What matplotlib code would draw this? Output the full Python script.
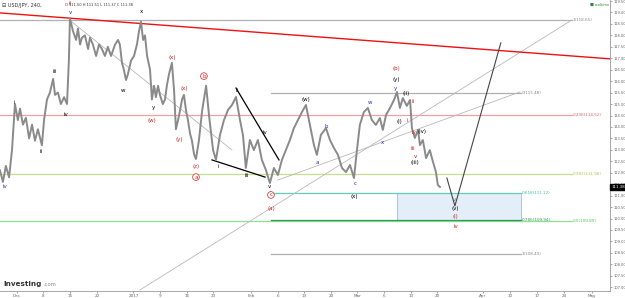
import numpy as np
import matplotlib
matplotlib.use('Agg')
import matplotlib.pyplot as plt
from matplotlib.patches import Rectangle

# ─── Datos (x = índice de barra de 12 h, y = precio) ─────────────────────────
precio_x = [0, 1.1, 2.2, 3.4, 4.5, 5.6, 6.7, 7.5, 8.6, 9.7, 10.9, 12, 13.1, 14.2, 15.7,
            16.5, 17.6, 18.7, 19.9, 20.6, 21.7, 22.8, 24, 25.1, 25.8, 26.2, 27.3, 28.5,
            29.2, 30, 30.7, 31.8, 33, 33.7, 34.8, 36, 37.1, 38.2, 39.3, 40.4, 41.6, 43.1,
            44.2, 44.9, 45.7, 46.4, 47.2, 47.9, 49.1, 50.2, 51.3, 52.1, 52.8, 53.6, 54.3,
            55.1, 56.2, 56.9, 57.7, 58.4, 59.2, 59.9, 61, 61.8, 62.5, 63.3, 64.4, 65.2,
            65.9, 66.7, 67.4, 68.2, 68.9, 69.7, 70.4, 71.2, 71.9, 72.7, 73.4, 74.5, 75.7,
            77.2, 78.3, 79.8, 80.9, 82.4, 83.9, 85.4, 86.9, 88.4, 89.9, 91, 92.1, 93.6,
            95.1, 96.6, 98.1, 99.6, 101.1, 102.6, 104.1, 105.6, 107.1, 108.6, 110.1,
            111.6, 113.1, 114.6, 116.1, 117.6, 118.7, 120.2, 122.1, 123.6, 125.1, 126.6,
            128.1, 129.6, 131.1, 132.6, 133.7, 134.8, 136.3, 137.8, 139.3, 140.8, 142.3,
            143.4, 144.6, 146.1, 147.6, 148.7, 149.8, 150.9, 152.4, 153.6, 154.3, 155.4,
            156.6, 157.3, 158.4, 159.6, 161, 162.2, 163.3, 164, 164.8]
precio_y = [112.1, 111.6, 112.3, 111.8, 113.0, 115.0, 114.3, 114.8, 114.1, 114.4, 113.5,
            114.1, 113.4, 113.9, 113.2, 114.3, 115.2, 115.5, 116.1, 115.4, 115.5, 115.0,
            115.3, 115.0, 116.9, 118.76, 118.2, 117.8, 118.3, 117.6, 117.9, 118.0, 117.4,
            117.9, 117.6, 117.1, 117.6, 117.4, 117.1, 117.5, 117.1, 117.6, 117.8, 117.6,
            116.8, 116.5, 116.05, 116.3, 116.9, 117.1, 117.6, 118.2, 118.6, 117.8, 118.0,
            117.1, 116.5, 115.2, 115.8, 115.3, 115.8, 115.4, 115.0, 115.2, 115.8, 116.3,
            116.8, 115.6, 113.9, 114.3, 114.7, 115.2, 115.4, 114.7, 114.3, 113.7, 113.4,
            112.8, 112.6, 113.4, 114.7, 115.8, 114.5, 113.0, 112.56, 113.65, 114.3, 114.74,
            114.96, 115.31, 114.3, 113.65, 112.21, 113.43, 112.99, 113.43, 112.56, 112.12,
            111.55, 112.21, 111.9, 112.56, 112.99, 113.43, 113.95, 114.3, 114.65, 114.96,
            114.09, 113.21, 112.78, 113.65, 113.95, 113.43, 113.08, 112.78, 112.21, 112.03,
            112.34, 111.77, 112.99, 114.09, 114.65, 114.83, 114.3, 114.09, 114.39, 113.87,
            114.52, 114.83, 115.18, 115.53, 114.83, 115.26, 114.92, 115.18, 113.95, 113.52,
            113.87, 113.21, 113.43, 112.64, 112.99, 112.47, 112.03, 111.47, 111.38]

proy_x = [167.4, 170.4, 187.6]
proy_y = [111.77, 110.55, 117.67]

# Fibonacci
fib1_niveles = [118.65, 114.52, 111.96, 109.89]
fib1_textos = ['1(118.65)', '0.236(114.52)', '0.382(111.96)', '0.5(109.89)']
fib1_colores = ['#b0b0b0', '#f2a0a0', '#c5df8a', '#8fe08f']
fib1_texto_col = ['#888888', '#e06060', '#a8c84a', '#4fc04f']
fib2_niveles = [115.48, 111.12, 109.94, 108.43]
fib2_textos = ['0(115.48)', '0.618(111.12)', '0.786(109.94)', '1(108.43)']
fib2_colores = ['#b0b0b0', '#5fcfb8', '#2e9a5e', '#b0b0b0']
fib2_texto_col = ['#888888', '#3dbfa5', '#2e9a5e', '#888888']

# líneas de tendencia (x0, y0, x1, y1)
tendencias_grises = [(52.4, 106.88, 214.2, 118.67),
                     (104.1, 111.68, 194.8, 115.53),
                     (27.0, 118.58, 86.9, 112.99)]
tendencias_negras = [(88.4, 115.7, 104.5, 112.56),
                     (79.4, 112.56, 99.3, 111.81)]
tendencia_roja = (0, 118.98, 229.0, 116.97)

# etiquetas de ondas
etq_negras = [('i', 5.24, 115.05), ('ii', 15.36, 112.91), ('iii', 20.6, 116.40),
              ('iv', 24.72, 114.56), ('w', 46.07, 115.61), ('x', 52.81, 119.06),
              ('y', 57.3, 114.83), ('i', 81.65, 112.29), ('ii', 88.76, 115.61),
              ('iii', 92.51, 111.90), ('iv', 99.25, 113.74), ('v', 101.12, 111.38),
              ('(w)', 114.6, 115.18), ('(x)', 132.58, 110.98), ('(y)', 148.31, 116.09),
              ('(i)', 149.44, 114.22), ('(ii)', 152.06, 115.48), ('(iii)', 155.43, 112.43),
              ('(iv)', 158.05, 113.82), ('(v)', 170.41, 110.42)]
etq_rojas = [('ii', 26.22, 119.37), ('(w)', 56.93, 114.30), ('(x)', 64.42, 117.05),
             ('(x)', 68.91, 115.70), ('(y)', 67.04, 113.47), ('(z)', 73.41, 112.29),
             ('(a)', 101.5, 110.46), ('(b)', 148.31, 116.57), ('i', 152.43, 114.26),
             ('ii', 154.68, 115.09), ('iii', 154.68, 113.04), ('iv', 155.06, 113.74),
             ('v', 155.81, 112.69), ('(i)', 170.41, 110.11), ('iv', 170.79, 109.67)]
etq_circulo = [('a', 73.41, 111.81), ('b', 76.4, 116.22), ('c', 101.5, 111.03)]
etq_azules = [('iv', 1.87, 111.38), ('v', 26.22, 118.98), ('a', 118.73, 112.43),
              ('b', 122.1, 114.04), ('c', 132.96, 111.55), ('w', 138.58, 115.05),
              ('x', 143.45, 113.34), ('y', 148.31, 115.70)]
etq_gris = [('v', 170.41, 110.81)]

caja_x = (148.7, 195.1)
caja_y = (109.94, 111.12)

ticks_x = [6.25, 16.25, 26.3, 36.3, 50, 59.9, 70, 79.8, 94, 104.1, 113.9, 124, 133.9,
           143.8, 153.9, 163.7, 180.9, 191, 201.1, 211.2, 221.7]
ticks_x_txt = ['Dec', '8', '15', '22', '2017', '9', '16', '23', 'Feb', '6', '13', '20',
               'Mar', '6', '13', '20', 'Apr', '10', '17', '24', 'May']
ticks_y = np.arange(107.0, 119.51, 0.5)
ultimo = 111.38

Y0, Y1 = 106.836, 119.544

# ─── Figura ───────────────────────────────────────────────────────────────────
plt.rcParams['font.family'] = 'DejaVu Sans'
fig = plt.figure(figsize=(6.25, 2.98), dpi=100)
ax = fig.add_axes([0, 0.0235, 0.976, 0.9765])
ax.set_xlim(0, 228.5)
ax.set_ylim(Y0, Y1)

for s in ['top', 'left']:
    ax.spines[s].set_visible(False)
ax.spines['bottom'].set_color('#999999')
ax.spines['right'].set_color('#999999')
ax.spines['bottom'].set_linewidth(0.6)
ax.spines['right'].set_linewidth(0.6)
ax.yaxis.tick_right()
ax.set_yticks(ticks_y)
ax.set_yticklabels([f'{v:.2f}' for v in ticks_y])
ax.set_xticks(ticks_x)
ax.set_xticklabels(ticks_x_txt)
ax.tick_params(axis='y', labelsize=2.6, colors='#666666', length=1.5, width=0.4, pad=1)
ax.tick_params(axis='x', labelsize=3.0, colors='#666666', length=1.5, width=0.4, pad=1)

# fibonacci 1
for nivel, txt, c, ct in zip(fib1_niveles, fib1_textos, fib1_colores, fib1_texto_col):
    ax.plot([0, 214.2], [nivel, nivel], color=c, lw=0.9)
    ax.text(214.6, nivel, txt, color=ct, fontsize=3.0, va='center', ha='left')

# fibonacci 2
ax.add_patch(Rectangle((caja_x[0], caja_y[0]), caja_x[1] - caja_x[0], caja_y[1] - caja_y[0],
                       facecolor='#e3eef9', edgecolor='#9fbce0', lw=0.6, zorder=1))
for nivel, txt, c, ct in zip(fib2_niveles, fib2_textos, fib2_colores, fib2_texto_col):
    ax.plot([101.5, 195.1], [nivel, nivel], color=c, lw=0.9, zorder=2)
    ax.text(195.5, nivel, txt, color=ct, fontsize=3.0, va='center', ha='left')

# tendencias
for x0, y0, x1, y1 in tendencias_grises:
    ax.plot([x0, x1], [y0, y1], color='#b8b8b8', lw=0.6)
for x0, y0, x1, y1 in tendencias_negras:
    ax.plot([x0, x1], [y0, y1], color='black', lw=0.9)
ax.plot(tendencia_roja[0::2], tendencia_roja[1::2], color='#ee1111', lw=1.0)

# precio
ax.plot(precio_x, precio_y, color='#8a8a8a', lw=1.4, zorder=3)
ax.plot(proy_x, proy_y, color='#444444', lw=0.8, zorder=3)

# etiquetas
kw = dict(fontsize=4.0, ha='center', va='center', zorder=5)
for t, x, y in etq_negras:
    ax.text(x, y, t, color='black', **kw)
for t, x, y in etq_rojas:
    ax.text(x, y, t, color='#cc2222', **kw)
for t, x, y in etq_azules:
    ax.text(x, y, t, color='#2233bb', **kw)
for t, x, y in etq_gris:
    ax.text(x, y, t, color='#777777', **kw)
for t, x, y in etq_circulo:
    ax.text(x, y, t, color='#cc2222', fontsize=4.0, ha='center', va='center', zorder=5,
            bbox=dict(boxstyle='circle,pad=0.15', fc='white', ec='#cc2222', lw=0.5))

# último precio
ax.text(1.002, (ultimo - Y0) / (Y1 - Y0), f'{ultimo:.2f}',
        transform=ax.transAxes, fontsize=2.8, color='white', va='center', ha='left',
        zorder=6, bbox=dict(boxstyle='square,pad=0.3', fc='black', ec='black'))

# encabezado
fig.text(0.004, 0.982, '\u229f USD/JPY, 240,', fontsize=3.6, color='#333333', va='center')
fig.text(0.104, 0.982, 'O 111.50 H 111.51 L 111.37 C 111.38', fontsize=2.6,
         color='#333333', va='center')
fig.text(0.944, 0.982, '\u25a0', fontsize=3.0, color='#2e8b3e', va='center')
fig.text(0.951, 0.982, 'realtime', fontsize=2.6, color='#2e8b3e', va='center')
fig.text(0.006, 0.048, 'Investing', fontsize=5.2, color='#333333', weight='bold', va='center')
fig.text(0.070, 0.045, '.com', fontsize=3.8, color='#888888', va='center')

fig.savefig('out.png', dpi=100, facecolor='white')
